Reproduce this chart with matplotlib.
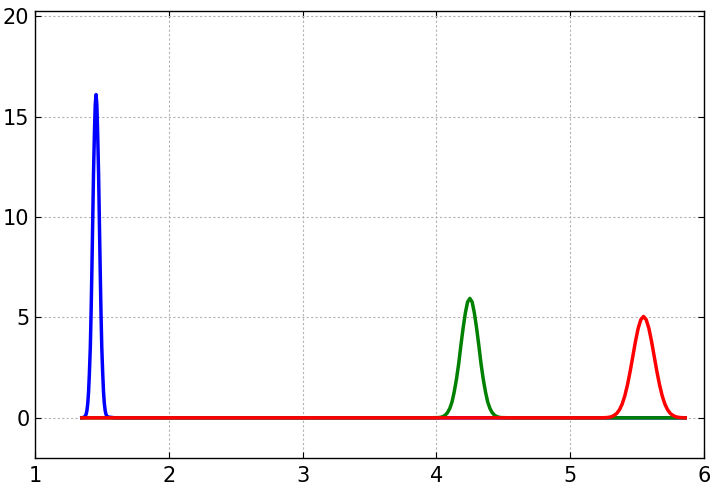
import numpy as np
import matplotlib
matplotlib.use("Agg")
import matplotlib.pyplot as plt

# curves (x, y); flat at zero outside the peaks
blue_x = [1.35,
          1.369, 1.375, 1.382, 1.388, 1.394, 1.400, 1.406, 1.413, 1.419,
          1.425, 1.431, 1.437, 1.444, 1.450, 1.456, 1.462, 1.468, 1.475,
          1.481, 1.487, 1.493, 1.499, 1.506, 1.512, 1.518, 1.524, 1.530,
          1.537, 1.543,
          1.60, 5.86]
blue_y = [0.0,
          0.04, 0.08, 0.18, 0.37, 0.71, 1.28, 2.18, 3.48, 5.23,
          7.37, 9.76, 12.15, 14.21, 15.60, 16.1, 15.60, 14.21, 12.15,
          9.76, 7.37, 5.23, 3.48, 2.18, 1.28, 0.71, 0.37, 0.18,
          0.08, 0.04,
          0.0, 0.0]

green_x = [1.35, 3.95,
           4.017, 4.033, 4.050, 4.067, 4.083, 4.100, 4.117, 4.133, 4.150,
           4.167, 4.183, 4.200, 4.217, 4.233, 4.250, 4.267, 4.283, 4.300,
           4.317, 4.333, 4.350, 4.367, 4.383, 4.400, 4.417, 4.433, 4.450,
           4.467, 4.483,
           4.55, 5.86]
green_y = [0.0, 0.0,
           0.013, 0.03, 0.066, 0.14, 0.26, 0.47, 0.80, 1.29, 1.93,
           2.72, 3.61, 4.49, 5.25, 5.77, 5.95, 5.77, 5.25, 4.49,
           3.61, 2.72, 1.93, 1.29, 0.80, 0.47, 0.26, 0.14, 0.066,
           0.03, 0.013,
           0.0, 0.0]

red_x = [1.35, 5.22,
         5.268, 5.288, 5.308, 5.328, 5.348, 5.368, 5.388, 5.408, 5.428,
         5.448, 5.468, 5.488, 5.508, 5.528, 5.548, 5.568, 5.588, 5.608,
         5.628, 5.648, 5.668, 5.688, 5.708, 5.728, 5.748, 5.768, 5.788,
         5.808, 5.828,
         5.86]
red_y = [0.0, 0.0,
         0.011, 0.026, 0.056, 0.12, 0.22, 0.40, 0.68, 1.09, 1.64,
         2.31, 3.06, 3.81, 4.46, 4.89, 5.05, 4.89, 4.46, 3.81,
         3.06, 2.31, 1.64, 1.09, 0.68, 0.40, 0.22, 0.12, 0.056,
         0.026, 0.011,
         0.0]

xticks = [1, 2, 3, 4, 5, 6]
yticks = [0, 5, 10, 15, 20]

plt.rcParams['font.size'] = 15

fig = plt.figure(figsize=(7.15, 4.88), dpi=100)
ax = fig.add_axes([0.049, 0.0615, 0.9356, 0.9153])

ax.plot(blue_x, blue_y, color='b', lw=2.5)
ax.plot(green_x, green_y, color=(0, 0.5, 0), lw=2.5)
ax.plot(red_x, red_y, color='r', lw=2.5)

ax.set_xlim(1, 6)
ax.set_ylim(-2, 20.25)
ax.set_xticks(xticks)
ax.set_yticks(yticks)
ax.grid(True, color='0.7', linestyle=(0, (2, 2)), linewidth=0.8)
ax.tick_params(direction='in', length=4, top=True, right=True)
ax.tick_params(axis='y', pad=4)
ax.tick_params(axis='x', pad=6)
for s in ax.spines.values():
    s.set_linewidth(1.0)

fig.savefig("out.png", dpi=100)
